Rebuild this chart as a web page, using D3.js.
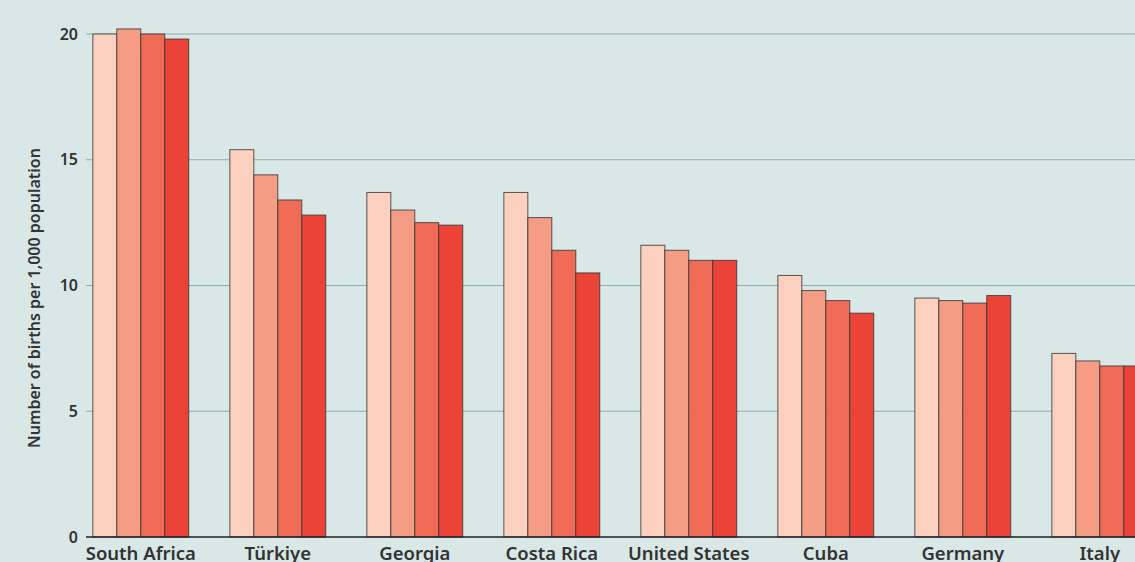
<!DOCTYPE html>
<html>
<head>
<meta charset="utf-8">
<script src="https://cdn.jsdelivr.net/npm/d3@7"></script>
<style>
  html, body { margin: 0; padding: 0; background: #d9e7e6; overflow: hidden; }
  svg { display: block; font-family: "Source Sans Pro", "Noto Sans", sans-serif; }
</style>
</head>
<body>
<div id="chart"></div>
<script>
const countries = ['South Africa', 'Türkiye', 'Georgia', 'Costa Rica', 'United States', 'Cuba', 'Germany', 'Italy'];
const seriesKeys = ['s1', 's2', 's3', 's4'];
const series1 = [20.0, 15.4, 13.7, 13.7, 11.6, 10.4, 9.5, 7.3];
const series2 = [20.2, 14.4, 13.0, 12.7, 11.4, 9.8, 9.4, 7.0];
const series3 = [20.0, 13.4, 12.5, 11.4, 11.0, 9.4, 9.3, 6.8];
const series4 = [19.8, 12.8, 12.4, 10.5, 11.0, 8.9, 9.6, 6.8];
const yTicks = [0, 5, 10, 15, 20];
const colors = ['#fcd0bf', '#f49c84', '#ef6b55', '#eb4337'];

const width = 1135, height = 562;
const margin = { left: 86, top: 34, bottom: 25 };

const rows = countries.map((c, i) => ({
  country: c,
  values: [series1[i], series2[i], series3[i], series4[i]]
}));

const svg = d3.select('#chart')
  .append('svg')
  .attr('width', width)
  .attr('height', height);

// the plot runs past the right edge of the picture
const x0 = d3.scaleBand()
  .domain(countries)
  .range([margin.left, margin.left + 137 * 7.8])
  .paddingInner(0.3)
  .paddingOuter(0.05);

const x1 = d3.scaleBand()
  .domain(seriesKeys)
  .range([0, x0.bandwidth()]);

const y = d3.scaleLinear()
  .domain([0, 20])
  .range([height - margin.bottom, margin.top]);

// grid
svg.append('g')
  .selectAll('line')
  .data(yTicks.filter(t => t > 0))
  .join('line')
  .attr('x1', margin.left)
  .attr('x2', width)
  .attr('y1', d => y(d))
  .attr('y2', d => y(d))
  .attr('stroke', '#8aaeac')
  .attr('stroke-width', 1);

// y tick labels
svg.append('g')
  .selectAll('text')
  .data(yTicks)
  .join('text')
  .attr('x', 78)
  .attr('y', d => y(d))
  .attr('dy', '0.35em')
  .attr('text-anchor', 'end')
  .attr('fill', '#333')
  .attr('font-size', '16px')
  .attr('font-weight', 600)
  .text(d => d);

// bars
const group = svg.append('g')
  .selectAll('g')
  .data(rows)
  .join('g')
  .attr('transform', d => `translate(${x0(d.country)},0)`);

group.selectAll('rect')
  .data(d => d.values.map((v, i) => ({ key: seriesKeys[i], value: v, i })))
  .join('rect')
  .attr('x', d => x1(d.key))
  .attr('y', d => y(d.value))
  .attr('width', x1.bandwidth())
  .attr('height', d => y(0) - y(d.value))
  .attr('fill', d => colors[d.i])
  .attr('stroke', '#3a3a3a')
  .attr('stroke-opacity', 0.85)
  .attr('stroke-width', 1);

// baseline
svg.append('line')
  .attr('x1', margin.left)
  .attr('x2', width)
  .attr('y1', y(0))
  .attr('y2', y(0))
  .attr('stroke', '#222')
  .attr('stroke-width', 1.5);

// x labels (cut at the bottom edge, as in the source)
svg.append('g')
  .selectAll('text')
  .data(countries)
  .join('text')
  .attr('x', d => x0(d) + x0.bandwidth() / 2)
  .attr('y', 560)
  .attr('text-anchor', 'middle')
  .attr('fill', '#333')
  .attr('font-size', '18.5px')
  .attr('font-weight', 600)
  .text(d => d);

// y axis title
svg.append('text')
  .attr('transform', 'translate(40,298) rotate(-90)')
  .attr('text-anchor', 'middle')
  .attr('fill', '#333')
  .attr('font-size', '16px')
  .attr('font-weight', 600)
  .text('Number of births per 1,000 population');
</script>
</body>
</html>
